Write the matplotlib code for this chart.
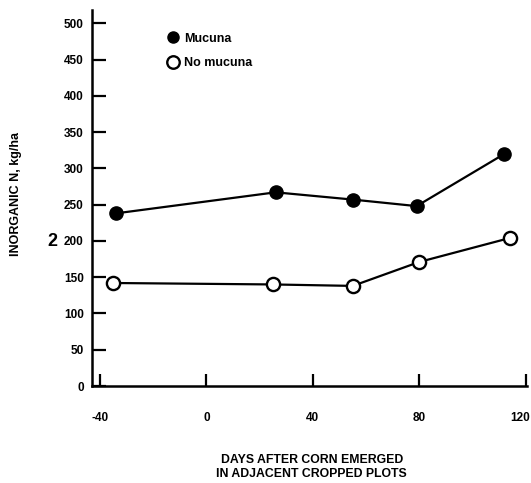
import matplotlib
matplotlib.use("Agg")
import matplotlib.pyplot as plt
from matplotlib.lines import Line2D
from matplotlib.transforms import ScaledTranslation

plt.rcParams['font.family'] = ['Liberation Sans', 'DejaVu Sans']
plt.rcParams['font.weight'] = 'bold'

days_mucuna = [-34, 26, 55, 79, 112]
n_mucuna = [238, 267, 257, 248, 320]
days_no = [-35, 25, 55, 80, 114]
n_no = [142, 140, 138, 171, 204]

xticks = [-40, 0, 40, 80, 120]
yticks = [0, 50, 100, 150, 200, 250, 300, 350, 400, 450, 500]

fig = plt.figure(figsize=(5.31, 4.83), dpi=100)
ax = fig.add_axes([0.1733, 0.2008, 0.8192, 0.778])

ax.plot(days_mucuna, n_mucuna, '-', color='black', lw=1.6, marker='o',
        ms=9.5, mfc='black', mec='black', zorder=3)
ax.plot(days_no, n_no, '-', color='black', lw=1.6, marker='o',
        ms=9.5, mfc='white', mec='black', mew=1.7, zorder=3)

ax.set_xlim(-43, 120.5)
ax.set_ylim(0, 518)
ax.set_xticks(xticks)
ax.set_yticks(yticks)
ax.set_xticklabels([str(t) for t in xticks], fontsize=8.5, fontweight='bold')
ax.set_yticklabels([str(t) for t in yticks], fontsize=8.5, fontweight='bold')
ax.tick_params(axis='y', direction='in', length=10, width=1.6, pad=6)
ax.tick_params(axis='x', direction='in', length=9, width=1.6, pad=19)
last = ax.get_xticklabels()[-1]
last.set_horizontalalignment('right')
last.set_transform(last.get_transform() + ScaledTranslation(0.04, 0, fig.dpi_scale_trans))

for s in ['top', 'right']:
    ax.spines[s].set_visible(False)
for s in ['left', 'bottom']:
    ax.spines[s].set_linewidth(1.8)

ax.set_ylabel('INORGANIC N, kg/ha', fontsize=9, fontweight='bold')
ax.yaxis.set_label_coords(-0.16, 0.51)
ax.set_xlabel('DAYS AFTER CORN EMERGED\nIN ADJACENT CROPPED PLOTS',
              fontsize=8.8, fontweight='bold', linespacing=1.3)
ax.xaxis.set_label_coords(0.505, -0.18)

ax.text(-0.092, 0.385, '2', transform=ax.transAxes, fontsize=13,
        fontweight='bold', ha='center', va='center')

handles = [Line2D([], [], ls='none', marker='o', ms=8, mfc='black', mec='black'),
           Line2D([], [], ls='none', marker='o', ms=9, mfc='white', mec='black', mew=1.7)]
ax.legend(handles, ['Mucuna', 'No mucuna'], loc='upper left',
          bbox_to_anchor=(0.145, 0.97), frameon=False, fontsize=9,
          handletextpad=0.45, labelspacing=1.0, handlelength=1.0)

fig.savefig('out.png', dpi=100)
